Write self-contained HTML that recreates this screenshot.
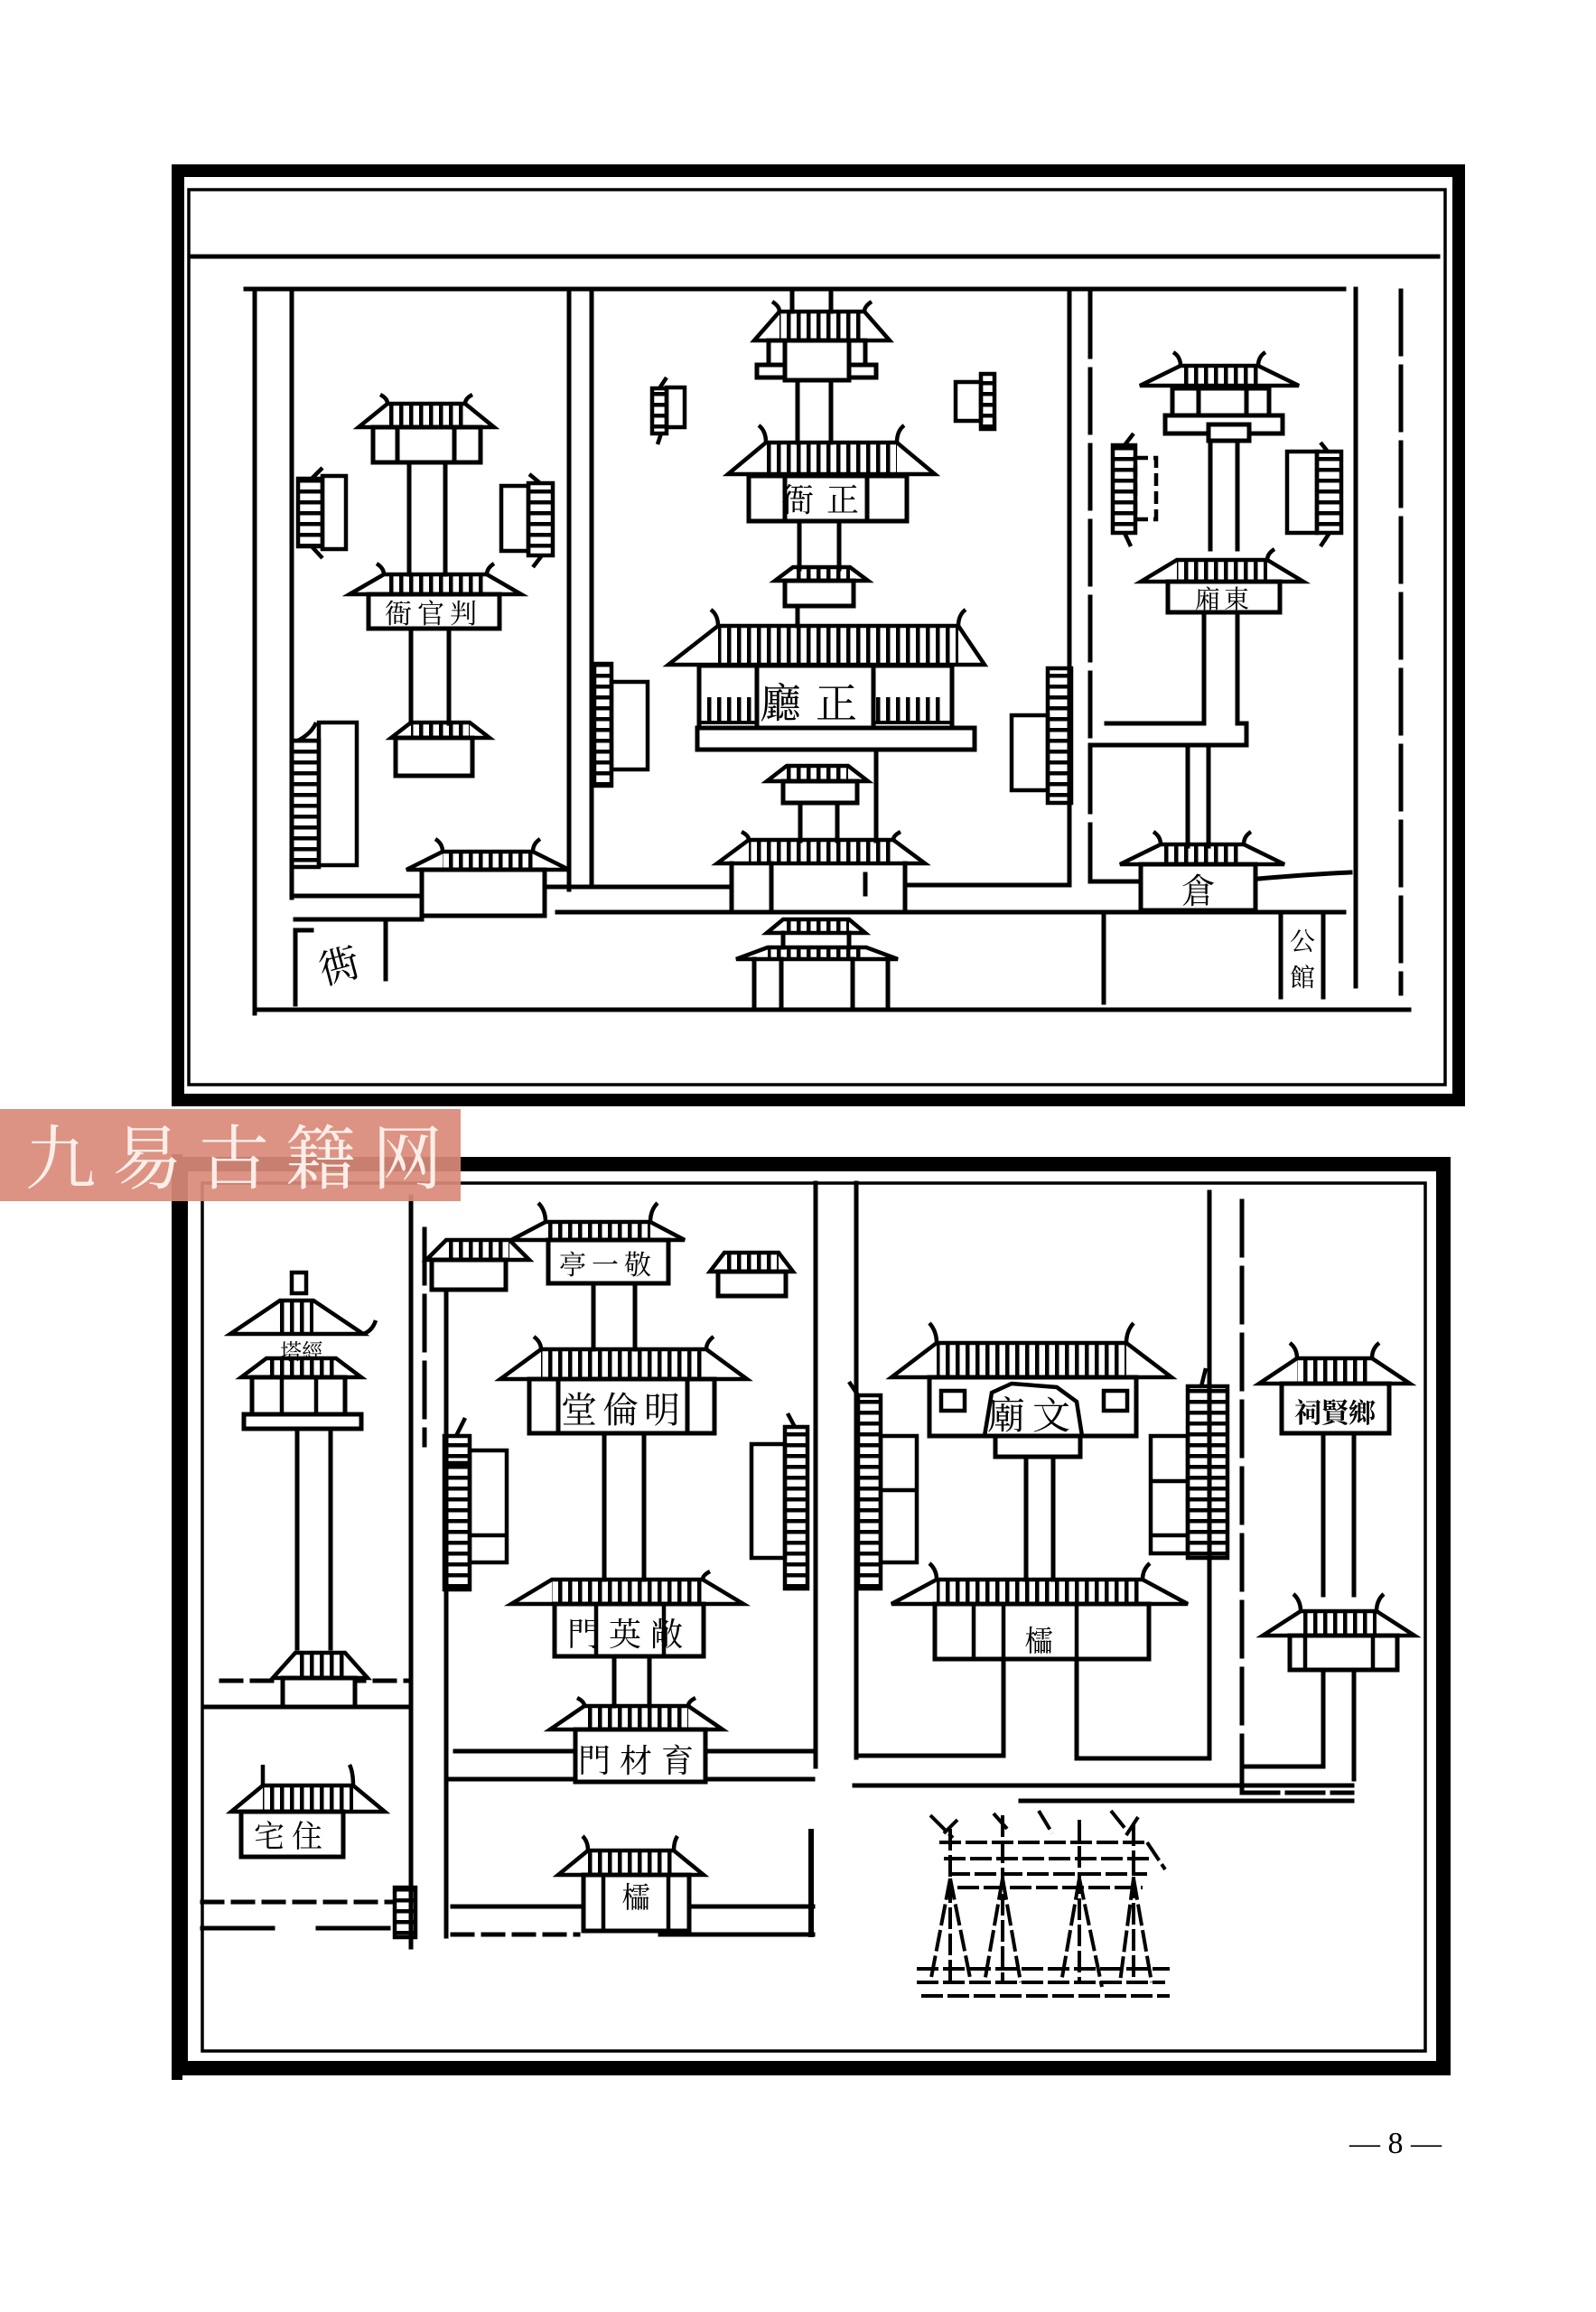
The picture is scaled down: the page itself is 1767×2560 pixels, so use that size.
<!DOCTYPE html>
<html><head><meta charset="utf-8"><style>
html,body{margin:0;padding:0;background:#fff;}
body{width:1767px;height:2560px;overflow:hidden;}
svg{display:block;}
text{font-family:"Liberation Serif","Noto Serif CJK SC","Noto Sans CJK SC",serif;fill:#000;stroke:none;}
</style></head><body>
<svg width="1767" height="2560" viewBox="0 0 1767 2560" xmlns="http://www.w3.org/2000/svg">
<defs>
<pattern id="t" width="11" height="12" patternUnits="userSpaceOnUse"><rect x="2" y="0" width="4.5" height="12" fill="#000"/></pattern>
<pattern id="h" width="12" height="12" patternUnits="userSpaceOnUse"><rect x="0" y="2" width="12" height="4.5" fill="#000"/></pattern>
</defs>
<rect width="1767" height="2560" fill="#fff"/>

<!-- ================= TOP FRAME ================= -->
<g fill="none" stroke="#000" stroke-linecap="square">
<rect x="197" y="189" width="1418" height="1029" stroke-width="14"/>
<rect x="209" y="210" width="1391" height="991" stroke-width="3.5"/>
<path d="M210 284H1592" stroke-width="5"/>
</g>

<g fill="none" stroke="#000" stroke-width="5" stroke-linecap="square">
<path d="M272 320H1488 M282 320V1122 M284 1118H1560 M1501 320V1092 M323 325V994 M630 320V985 M655 320V981 M1184 320V980"/>
<path d="M1551 322V1100 M1207 325V975" stroke-dasharray="70 14"/>
<path d="M327 992H467 M327 1018H467 M603 982H810 M617 1010H1488 M1002 980H1181 M1207 976H1263 M1393 973Q1450 968 1495 966"/>
<path d="M1222 1010V1110 M427 1022V1084 M327 1030V1112 M327 1030H345 M1418 1014V1104 M1465 1014V1104"/>
<path d="M453 512V636 M493 512V636 M455 696V801 M497 696V801"/>
<path d="M877 322V345 M920 322V345 M883 421V490 M920 421V490 M885 577V630 M929 577V630 M883 671V693"/>
<path d="M886 889V931 M927 889V931 M970 830V931"/>
<path d="M1340 488V608 M1370 488V608 M1333 678V801H1225 M1370 678V801H1380V825H1207 M1315 825V937 M1338 825V937"/>
<path d="M835 1062V1114 M865 1062V1114 M944 1062V1114 M983 1062V1114 M867 1033V1049 M940 1033V1049"/>
<path d="M810 956V1006 M854 956V1006 M1002 956V1006 M958 968V990"/>
</g>

<!-- roofs top frame -->
<g stroke="#000" stroke-width="4.5" fill="none">
<rect x="429" y="447" width="86" height="26" fill="url(#t)" stroke="none"/>
<polygon points="397,473 429,447 515,447 547,473"/>
<path d="M429 447Q429 441 421 437 M515 447Q515 441 523 437"/>
<rect x="425" y="636" width="114" height="22" fill="url(#t)" stroke="none"/>
<polygon points="387,658 425,636 539,636 577,658"/>
<path d="M425 636Q425 629 417 624 M539 636Q539 629 547 624"/>
<rect x="455" y="800" width="65" height="17" fill="url(#t)" stroke="none"/>
<polygon points="433,817 455,800 520,800 542,817"/>
<rect x="490" y="943" width="100" height="20" fill="url(#t)" stroke="none"/>
<polygon points="450,963 490,943 590,943 630,963"/>
<path d="M490 943Q490 934 482 929 M590 943Q590 934 598 929"/>
<rect x="863" y="345" width="94" height="32" fill="url(#t)" stroke="none"/>
<polygon points="835,377 863,345 957,345 985,377"/>
<path d="M863 345Q863 339 855 334 M957 345Q957 339 965 334"/>
<rect x="848" y="490" width="145" height="35" fill="url(#t)" stroke="none"/>
<polygon points="806,525 848,490 993,490 1035,525"/>
<path d="M848 490Q848 477 840 471 M993 490Q993 477 1001 471"/>
<rect x="878" y="628" width="63" height="15" fill="url(#t)" stroke="none"/>
<polygon points="858,643 878,628 941,628 961,643"/>
<rect x="795" y="693" width="266" height="43" fill="url(#t)" stroke="none"/>
<polygon points="740,736 795,693 1061,693 1090,736"/>
<path d="M795 693Q795 681 787 675 M1061 693Q1061 681 1069 675"/>
<rect x="871" y="848" width="68" height="17" fill="url(#t)" stroke="none"/>
<polygon points="849,865 871,848 939,848 961,865"/>
<rect x="829" y="930" width="160" height="26" fill="url(#t)" stroke="none"/>
<polygon points="794,956 829,930 989,930 1024,956"/>
<path d="M829 930Q829 925 821 921 M989 930Q989 925 997 921"/>
<rect x="867" y="1018" width="73" height="15" fill="url(#t)" stroke="none"/>
<polygon points="849,1033 867,1018 940,1018 958,1033"/>
<rect x="850" y="1049" width="109" height="13" fill="url(#t)" stroke="none"/>
<polygon points="815,1062 850,1049 959,1049 994,1062"/>
<rect x="1307" y="405" width="86" height="22" fill="url(#t)" stroke="none"/>
<polygon points="1262,427 1307,405 1393,405 1438,427"/>
<path d="M1307 405Q1307 395 1299 390 M1393 405Q1393 395 1401 390"/>
<rect x="1303" y="620" width="100" height="24" fill="url(#t)" stroke="none"/>
<polygon points="1263,644 1303,620 1403,620 1443,644"/>
<path d="M1403 620Q1403 613 1411 608"/>
<rect x="1285" y="935" width="92" height="22" fill="url(#t)" stroke="none"/>
<polygon points="1240,957 1285,935 1377,935 1422,957"/>
<path d="M1285 935Q1285 926 1277 921 M1377 935Q1377 926 1385 921"/>
</g>

<g fill="#fff" stroke="#000" stroke-width="5">
<rect x="413" y="473" width="119" height="39"/>
<rect x="440" y="473" width="63" height="39"/>
<rect x="408" y="658" width="145" height="38"/>
<rect x="438" y="817" width="85" height="42"/>
<rect x="467" y="963" width="136" height="51"/>
<rect x="851" y="377" width="107" height="30"/>
<rect x="838" y="404" width="132" height="14"/>
<rect x="869" y="377" width="71" height="44"/>
<rect x="829" y="527" width="175" height="50"/>
<rect x="869" y="527" width="91" height="50"/>
<rect x="869" y="643" width="76" height="28"/>
<rect x="774" y="737" width="280" height="69"/>
<rect x="838" y="737" width="129" height="69"/>
<rect x="772" y="806" width="307" height="24"/>
<rect x="867" y="865" width="82" height="24"/>
<rect x="1298" y="430" width="107" height="30"/>
<rect x="1327" y="430" width="53" height="30"/>
<rect x="1290" y="460" width="130" height="20"/>
<rect x="1338" y="470" width="45" height="18"/>
<rect x="1293" y="644" width="124" height="34"/>
<rect x="1263" y="957" width="127" height="51"/>
</g>
<g stroke="none">
<rect x="782" y="772" width="53" height="28" fill="url(#t)"/>
<rect x="970" y="772" width="76" height="28" fill="url(#t)"/>
</g>
<path d="M774 800H838 M967 800H1054" stroke="#000" stroke-width="4"/>

<g stroke="#000" stroke-width="4.5" fill="none">
<rect x="330" y="530" width="27" height="75" fill="url(#h)"/>
<rect x="357" y="527" width="26" height="81"/>
<path d="M345 530L357 518 M345 605L357 618"/>
<rect x="555" y="538" width="30" height="72"/>
<rect x="585" y="535" width="27" height="80" fill="url(#h)"/>
<path d="M598 535L586 525 M600 615L590 628"/>
<rect x="323" y="820" width="30" height="140" fill="url(#h)"/>
<rect x="353" y="800" width="42" height="158"/>
<path d="M330 820Q345 812 350 800"/>
<rect x="722" y="430" width="16" height="50" fill="url(#h)"/>
<rect x="738" y="429" width="20" height="44"/>
<path d="M730 430L738 418 M732 480L728 492"/>
<rect x="1058" y="423" width="28" height="43"/>
<rect x="1086" y="414" width="15" height="61" fill="url(#h)"/>
<rect x="658" y="735" width="19" height="135" fill="url(#h)"/>
<rect x="677" y="755" width="40" height="97"/>
<rect x="1120" y="792" width="40" height="83"/>
<rect x="1160" y="740" width="26" height="149" fill="url(#h)"/>
<rect x="1232" y="493" width="25" height="97" fill="url(#h)"/>
<rect x="1257" y="507" width="23" height="68" stroke-dasharray="14 6"/>
<path d="M1245 493L1255 480 M1245 590L1252 605"/>
<rect x="1425" y="500" width="33" height="90"/>
<rect x="1458" y="500" width="27" height="90" fill="url(#h)"/>
<path d="M1470 500L1462 490 M1472 590L1462 605"/>
</g>

<text x="480" y="690" font-size="30" text-anchor="middle" letter-spacing="6">衙官判</text>
<text x="915" y="566" font-size="36" text-anchor="middle" letter-spacing="14">衙正</text>
<text x="903" y="795" font-size="46" text-anchor="middle" letter-spacing="16">廳正</text>
<text x="1355" y="673" font-size="28" text-anchor="middle" letter-spacing="4">廂東</text>
<text x="1327" y="1000" font-size="38" text-anchor="middle">倉</text>
<text x="377" y="1085" font-size="44" text-anchor="middle" transform="rotate(-15 377 1075)">衖</text>
<text x="1442" y="1052" font-size="28" text-anchor="middle">公</text>
<text x="1442" y="1092" font-size="28" text-anchor="middle">館</text>

<!-- ================= BOTTOM FRAME ================= -->
<g fill="none" stroke="#000" stroke-linecap="square">
<rect x="200" y="1289" width="1398" height="1001" stroke-width="16"/>
<path d="M196 1284V2297" stroke-width="12"/>
<rect x="224" y="1310" width="1354" height="961" stroke-width="3.5"/>
</g>
<g fill="none" stroke="#000" stroke-width="5" stroke-linecap="square">
<path d="M455 1325V2156 M494 1400V2144 M903 1310V1956 M948 1310V1946 M1339 1320V1947"/>
<path d="M470 1361V1600 M1375 1330V1990" stroke-dasharray="60 14"/>
<path d="M898 2028V2142" stroke-width="6"/>
<path d="M228 1890H455 M504 1939H635 M786 1939H900 M494 1970H639 M742 1970H900"/>
<path d="M245 1861H455 M224 2106H435 M501 2142H640" stroke-dasharray="22 12"/>
<path d="M224 2135H302 M352 2135H430 M501 2111H644 M763 2111H900 M731 2142H900"/>
<path d="M950 1944H1111 M1194 1947H1336 M1375 1956H1462 M946 1977H1497 M1130 1994H1497"/>
<path d="M1375 1985H1497" stroke-dasharray="40 10"/>
<path d="M329 1582V1825 M366 1582V1825 M657 1421V1494 M703 1421V1494 M669 1587V1749 M713 1587V1749 M680 1834V1889 M719 1834V1889"/>
<path d="M1136 1613V1749 M1166 1613V1749 M1111 1837V1944 M1192 1837V1947 M1465 1587V1766 M1499 1587V1766 M1465 1849V1956 M1499 1849V1970"/>
</g>

<g stroke="#000" stroke-width="4.5" fill="none">
<rect x="323" y="1409" width="16" height="23" fill="#fff"/>
<rect x="310" y="1440" width="37" height="37" fill="url(#t)" stroke="none"/>
<polygon points="255,1477 310,1440 347,1440 402,1477"/>
<path d="M402 1477Q412 1474 416 1462"/>
<rect x="295" y="1504" width="77" height="21" fill="url(#t)" stroke="none"/>
<polygon points="267,1525 295,1504 372,1504 400,1525"/>
<rect x="327" y="1830" width="55" height="28" fill="url(#t)" stroke="none"/>
<polygon points="302,1858 327,1830 382,1830 407,1858"/>
<rect x="291" y="1977" width="100" height="29" fill="url(#t)" stroke="none"/>
<polygon points="256,2006 291,1977 391,1977 426,2006"/>
<path d="M291 1977V1954 M391 1977Q391 1962 387 1954"/>
<rect x="604" y="1353" width="116" height="20" fill="url(#t)" stroke="none"/>
<polygon points="566,1373 604,1353 720,1353 758,1373"/>
<path d="M604 1353Q604 1340 596 1332 M720 1353Q720 1340 728 1332"/>
<rect x="494" y="1373" width="70" height="22" fill="url(#t)" stroke="none"/>
<polygon points="472,1395 494,1373 564,1373 586,1395"/>
<rect x="802" y="1387" width="60" height="21" fill="url(#t)" stroke="none"/>
<polygon points="786,1408 802,1387 862,1387 878,1408"/>
<rect x="599" y="1494" width="183" height="33" fill="url(#t)" stroke="none"/>
<polygon points="554,1527 599,1494 782,1494 827,1527"/>
<path d="M599 1494Q599 1486 591 1480 M782 1494Q782 1486 790 1480"/>
<rect x="611" y="1749" width="167" height="27" fill="url(#t)" stroke="none"/>
<polygon points="566,1776 611,1749 778,1749 823,1776"/>
<path d="M778 1749Q778 1744 786 1740"/>
<rect x="647" y="1889" width="115" height="26" fill="url(#t)" stroke="none"/>
<polygon points="609,1915 647,1889 762,1889 800,1915"/>
<path d="M647 1889Q647 1884 639 1880 M762 1889Q762 1884 770 1880"/>
<rect x="651" y="2049" width="95" height="27" fill="url(#t)" stroke="none"/>
<polygon points="618,2076 651,2049 746,2049 779,2076"/>
<path d="M651 2049Q651 2039 645 2033 M746 2049Q746 2039 750 2033"/>
<rect x="1037" y="1487" width="210" height="38" fill="url(#t)" stroke="none"/>
<polygon points="987,1525 1037,1487 1247,1487 1297,1525"/>
<path d="M1037 1487Q1037 1474 1029 1465 M1247 1487Q1247 1474 1255 1465"/>
<rect x="1037" y="1749" width="228" height="27" fill="url(#t)" stroke="none"/>
<polygon points="987,1776 1037,1749 1265,1749 1315,1776"/>
<path d="M1037 1749Q1037 1738 1029 1731 M1265 1749Q1265 1738 1273 1731"/>
<rect x="1436" y="1504" width="83" height="28" fill="url(#t)" stroke="none"/>
<polygon points="1394,1532 1436,1504 1519,1504 1561,1532"/>
<path d="M1436 1504Q1436 1493 1428 1487 M1519 1504Q1519 1493 1527 1487"/>
<rect x="1440" y="1784" width="84" height="27" fill="url(#t)" stroke="none"/>
<polygon points="1398,1811 1440,1784 1524,1784 1566,1811"/>
<path d="M1440 1784Q1440 1772 1432 1765 M1524 1784Q1524 1772 1532 1765"/>
</g>

<g fill="#fff" stroke="#000" stroke-width="5">
<rect x="279" y="1525" width="103" height="41"/>
<rect x="270" y="1566" width="130" height="16"/>
<rect x="313" y="1858" width="80" height="32"/>
<rect x="267" y="2006" width="113" height="50"/>
<rect x="607" y="1373" width="133" height="48"/>
<rect x="478" y="1395" width="82" height="33"/>
<rect x="795" y="1408" width="75" height="27"/>
<rect x="586" y="1527" width="205" height="60"/>
<rect x="618" y="1527" width="143" height="60"/>
<rect x="614" y="1776" width="165" height="58"/>
<rect x="637" y="1915" width="144" height="58"/>
<rect x="646" y="2076" width="117" height="62"/>
<rect x="1029" y="1525" width="229" height="65"/>
<rect x="1102" y="1590" width="94" height="23"/>
<rect x="1035" y="1776" width="237" height="61"/>
<rect x="1419" y="1532" width="119" height="55"/>
<rect x="1428" y="1811" width="119" height="38"/>
</g>
<g fill="none" stroke="#000" stroke-width="4.5">
<path d="M660 1776V1834 M735 1776V1834 M312 1525V1566 M350 1525V1566 M668 2076V2138 M740 2076V2138 M1078 1776V1837 M1111 1776V1837 M1192 1776V1837 M1445 1811V1849 M1520 1811V1849"/>
<rect x="1042" y="1540" width="26" height="22"/>
<rect x="1222" y="1540" width="26" height="22"/>
<path d="M1090 1590L1098 1542L1120 1532L1170 1536L1192 1552L1198 1590"/>
</g>

<g stroke="#000" stroke-width="4.5" fill="none">
<rect x="492" y="1590" width="28" height="170" fill="url(#h)"/>
<rect x="520" y="1606" width="41" height="124"/>
<path d="M492 1620H520 M520 1700H561 M505 1590L515 1570"/>
<rect x="832" y="1599" width="37" height="126"/>
<rect x="869" y="1580" width="25" height="179" fill="url(#h)"/>
<path d="M880 1580L872 1565"/>
<rect x="950" y="1545" width="25" height="214" fill="url(#h)"/>
<rect x="975" y="1590" width="40" height="140"/>
<path d="M975 1650H1015 M950 1545L940 1530"/>
<rect x="1274" y="1590" width="41" height="130"/>
<rect x="1315" y="1535" width="44" height="190" fill="url(#h)"/>
<path d="M1274 1640H1315 M1274 1700H1315 M1330 1535L1335 1515"/>
<rect x="437" y="2090" width="23" height="55" fill="url(#h)"/>
</g>

<!-- pailou -->
<g stroke="#000" stroke-width="4" fill="none" stroke-dasharray="24 5">
<path d="M1052 2025V2195 M1110 2010V2195 M1195 2015V2195 M1255 2020V2195"/>
<path d="M1052 2080L1030 2195 M1052 2080L1075 2195 M1110 2080L1090 2195 M1110 2080L1130 2195 M1195 2080L1175 2195 M1195 2080L1220 2200 M1255 2080L1240 2195 M1255 2080L1275 2195"/>
<path d="M1040 2040H1270 M1045 2058H1275 M1050 2075H1270 M1060 2090H1265"/>
<path d="M1015 2180H1295 M1015 2195H1290 M1020 2210H1295"/>
<path d="M1030 2010L1055 2035 M1060 2015L1045 2030 M1100 2008L1115 2025 M1150 2005L1165 2030 M1230 2005L1250 2030 M1260 2012L1245 2035 M1270 2040L1290 2070"/>
</g>

<text x="334" y="1505" font-size="24" text-anchor="middle">塔經</text>
<text x="323" y="2045" font-size="34" text-anchor="middle" letter-spacing="8">宅住</text>
<text x="673" y="1411" font-size="30" text-anchor="middle" letter-spacing="6">亭一敬</text>
<text x="690" y="1575" font-size="40" text-anchor="middle" letter-spacing="6">堂倫明</text>
<text x="697" y="1822" font-size="36" text-anchor="middle" letter-spacing="10">門英敞</text>
<text x="709" y="1962" font-size="36" text-anchor="middle" letter-spacing="10">門材育</text>
<text x="704" y="2112" font-size="32" text-anchor="middle">櫺</text>
<text x="1143" y="1582" font-size="42" text-anchor="middle" letter-spacing="8">廟文</text>
<text x="1150" y="1828" font-size="32" text-anchor="middle">櫺</text>
<text x="1478" y="1575" font-size="30" text-anchor="middle" font-weight="bold">祠賢鄉</text>

<rect x="0" y="1228" width="510" height="102" fill="#d98a7a" opacity="0.92"/>
<text x="28" y="1310" font-size="78" letter-spacing="18" style="fill:#fbeee9;font-family:'Noto Serif CJK SC','Liberation Serif',serif;">九易古籍网</text>

<text x="1545" y="2384" font-size="34" text-anchor="middle">— 8 —</text>
</svg>
</body></html>
